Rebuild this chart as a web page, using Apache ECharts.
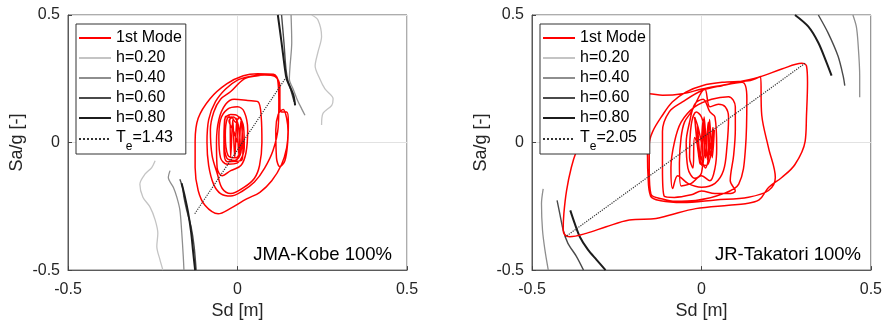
<!DOCTYPE html>
<html>
<head>
<meta charset="utf-8">
<script src="https://cdn.jsdelivr.net/npm/echarts@6/dist/echarts.min.js"></script>
<style>
  html, body { margin: 0; padding: 0; background: #fff; }
  #chart { width: 885px; height: 325px; }
</style>
</head>
<body>
<div id="chart"></div>
<script>
  // axis ticks (same for both panels)
  const axisMin = -0.5
  const axisMax = 0.5
  const tickStep = 0.5
  const panelTitles = ['JMA-Kobe 100%', 'JR-Takatori 100%']
  const dampingNames = ['h=0.20', 'h=0.40', 'h=0.60', 'h=0.80']
  const periodNames = ['Te=1.43', 'Te=2.05']

  // ---- JMA-Kobe: 1st mode response (Sd [m], Sa/g) ----
  const kobeMode = [
    [0.00, 0.00], [-0.01, 0.04], [-0.025, 0.085], [-0.012, 0.10], [0.002, 0.07], [0.008, -0.02],
    [-0.004, -0.06], [-0.028, -0.05], [-0.036, 0.03], [-0.03, 0.095], [-0.018, 0.10], [-0.006, 0.08],
    [0.006, 0.10], [0.014, 0.07], [0.01, -0.04], [-0.008, -0.07], [-0.032, -0.06], [-0.04, 0.02],
    [-0.036, 0.10], [-0.024, 0.105], [-0.02, -0.055], [-0.014, 0.09], [-0.008, -0.06], [-0.002, 0.095],
    [0.004, -0.05], [0.01, 0.085], [0.016, -0.03], [0.012, -0.07], [-0.03, -0.075], [-0.04, -0.02],
    [-0.038, 0.09], [-0.02, 0.11], [0.0, 0.105], [0.018, 0.06], [0.02, -0.02], [0.0, -0.08],
    [-0.03, -0.085], [-0.05, -0.06], [-0.055, 0.02], [-0.05, 0.09], [-0.03, 0.13], [0.0, 0.14],
    [0.02, 0.12], [0.03, 0.05], [0.025, -0.04], [0.01, -0.09], [-0.02, -0.11], [-0.045, -0.13],
    [-0.06, -0.10], [-0.062, 0.0], [-0.055, 0.09], [-0.035, 0.15], [-0.01, 0.17], [0.03, 0.165],
    [0.06, 0.16], [0.07, 0.10], [0.072, 0.0], [0.065, -0.09], [0.05, -0.14], [0.02, -0.175],
    [-0.02, -0.20], [-0.045, -0.18], [-0.06, -0.12], [-0.075, -0.05], [-0.08, 0.05], [-0.07, 0.12],
    [-0.05, 0.17], [-0.02, 0.20], [0.02, 0.25], [0.06, 0.262], [0.10, 0.268], [0.118, 0.25],
    [0.122, 0.16], [0.12, 0.06], [0.105, -0.03], [0.08, -0.10], [0.05, -0.155], [0.015, -0.19],
    [-0.02, -0.21], [-0.05, -0.20], [-0.07, -0.165], [-0.085, -0.09], [-0.09, 0.0], [-0.085, 0.09],
    [-0.065, 0.16], [-0.035, 0.21], [0.0, 0.245], [0.04, 0.26], [0.08, 0.265], [0.11, 0.26],
    [0.125, 0.22], [0.125, 0.14], [0.13, 0.12], [0.145, 0.12], [0.15, 0.08], [0.148, 0.0],
    [0.14, -0.07], [0.125, -0.095], [0.115, -0.06], [0.113, 0.05], [0.12, 0.11], [0.135, 0.13],
    [0.145, 0.095], [0.149, 0.043], [0.145, -0.021], [0.13, -0.086], [0.101, -0.15], [0.066, -0.195],
    [0.027, -0.221], [-0.022, -0.259], [-0.057, -0.279], [-0.096, -0.246], [-0.116, -0.188],
    [-0.125, -0.098], [-0.125, 0.005], [-0.116, 0.095], [-0.081, 0.172], [-0.032, 0.23],
    [0.017, 0.262], [0.06, 0.27], [0.106, 0.268], [0.12, 0.242], [0.123, 0.133]
  ]
  // demand spectra, each as an upper branch and a lower branch
  const kobeH20 = [
    [0.219, 0.50], [0.237, 0.481], [0.248, 0.416], [0.237, 0.353], [0.229, 0.30], [0.243, 0.249],
    [0.258, 0.21], [0.282, 0.172], [0.278, 0.146], [0.252, 0.114], [0.248, 0.069]
  ]
  const kobeH20Low = [
    [-0.243, -0.071], [-0.253, -0.098], [-0.273, -0.124], [-0.288, -0.163], [-0.279, -0.214],
    [-0.258, -0.253], [-0.243, -0.303], [-0.235, -0.356], [-0.238, -0.407], [-0.229, -0.458], [-0.22, -0.50]
  ]
  const kobeH40 = [
    [0.158, 0.50], [0.16, 0.392], [0.155, 0.30], [0.153, 0.249], [0.164, 0.21], [0.175, 0.172],
    [0.189, 0.133], [0.199, 0.107]
  ]
  const kobeH40Low = [
    [-0.199, -0.11], [-0.204, -0.137], [-0.189, -0.176], [-0.179, -0.214], [-0.17, -0.264],
    [-0.165, -0.342], [-0.16, -0.446], [-0.158, -0.50]
  ]
  const kobeH60 = [
    [0.13, 0.50], [0.137, 0.392], [0.143, 0.288], [0.149, 0.241], [0.158, 0.203], [0.167, 0.16]
  ]
  const kobeH60Low = [
    [-0.17, -0.144], [-0.162, -0.176], [-0.158, -0.214], [-0.15, -0.264], [-0.137, -0.33],
    [-0.128, -0.407], [-0.122, -0.50]
  ]
  const kobeH80 = [
    [0.119, 0.50], [0.13, 0.392], [0.14, 0.288], [0.145, 0.249], [0.155, 0.218], [0.165, 0.185], [0.17, 0.146]
  ]
  const kobeH80Low = [
    [-0.165, -0.16], [-0.155, -0.214], [-0.146, -0.272], [-0.137, -0.349], [-0.131, -0.427], [-0.125, -0.50]
  ]
  const kobeTe = [[-0.126, -0.279], [0.14, 0.249]]

  // ---- JR-Takatori ----
  const takatoriMode = [
    [0.0, 0.0], [-0.01, 0.06], [-0.02, 0.10], [-0.005, -0.07], [0.005, 0.09], [0.012, -0.06],
    [0.02, 0.08], [0.026, -0.05], [0.034, 0.06], [0.03, -0.03], [0.015, -0.09], [-0.005, -0.08],
    [-0.012, 0.07], [0.0, -0.09], [0.008, 0.10], [0.018, -0.07], [0.024, 0.09], [0.032, -0.06],
    [0.038, 0.05], [0.028, 0.0], [0.012, -0.10],
    [-0.02, 0.02], [-0.025, -0.10], [-0.035, -0.06], [-0.03, 0.07], [-0.015, 0.12], [0.0, 0.10],
    [0.01, 0.04], [0.0, -0.12], [-0.02, -0.14], [-0.04, -0.10], [-0.045, 0.0], [-0.035, 0.08],
    [-0.02, 0.15], [0.005, 0.17], [0.025, 0.12], [0.04, 0.10], [0.045, -0.02], [0.04, -0.10],
    [0.025, -0.15], [0.0, -0.13], [-0.03, -0.16], [-0.06, -0.17], [-0.065, -0.08], [-0.06, 0.02],
    [-0.05, 0.08], [-0.03, 0.12], [0.01, 0.21], [0.025, 0.14], [0.05, 0.15], [0.07, 0.14],
    [0.08, 0.10], [0.075, -0.02], [0.065, -0.11], [0.04, -0.16], [0.0, -0.175], [-0.04, -0.16],
    [-0.07, -0.13], [-0.085, -0.18], [-0.09, -0.10], [-0.08, 0.0], [-0.06, 0.08], [-0.02, 0.14],
    [0.03, 0.17], [0.08, 0.18], [0.10, 0.14], [0.10, 0.05], [0.095, -0.05], [0.085, -0.15],
    [0.10, -0.19], [0.08, -0.20], [0.04, -0.20], [0.0, -0.19], [-0.03, -0.205], [-0.08, -0.215],
    [-0.11, -0.21], [-0.115, -0.10], [-0.115, 0.043], [-0.095, 0.12], [-0.056, 0.159], [0.002, 0.204],
    [0.061, 0.223], [0.12, 0.236], [0.134, 0.172], [0.13, -0.021], [0.11, -0.163], [0.061, -0.202],
    [-0.017, -0.227], [-0.076, -0.23], [-0.115, -0.221], [-0.149, -0.202], [-0.154, -0.111],
    [-0.154, -0.008], [-0.144, 0.043], [-0.115, 0.107], [-0.086, 0.159], [-0.046, 0.198], [0.002, 0.223],
    [0.061, 0.236], [0.139, 0.242], [0.174, 0.259], [0.178, 0.107], [0.198, -0.021], [0.218, -0.137],
    [0.198, -0.188], [0.139, -0.214], [0.042, -0.225], [-0.056, -0.235], [-0.12, -0.228], [-0.15, -0.21],
    [-0.158, -0.12], [-0.16, -0.03], [-0.17, 0.0], [-0.24, 0.15], [-0.2, 0.185], [-0.154, 0.191],
    [-0.115, 0.185], [-0.056, 0.191], [0.002, 0.21], [0.081, 0.23], [0.169, 0.256], [0.237, 0.288],
    [0.296, 0.311], [0.31, 0.30], [0.313, 0.236], [0.31, 0.107], [0.306, 0.005], [0.276, -0.086],
    [0.237, -0.137], [0.198, -0.176], [0.17, -0.225], [0.13, -0.24], [0.081, -0.246], [-0.017, -0.259],
    [-0.095, -0.285], [-0.134, -0.298], [-0.213, -0.304], [-0.281, -0.33], [-0.34, -0.356],
    [-0.389, -0.369], [-0.403, -0.362], [-0.408, -0.343], [-0.406, -0.279], [-0.398, -0.188],
    [-0.384, -0.098], [-0.369, -0.034], [-0.34, 0.05]
  ]
  const takatoriH20 = []
  const takatoriH20Low = []
  const takatoriH40 = [
    [0.447, 0.50], [0.457, 0.455], [0.462, 0.391], [0.467, 0.262], [0.467, 0.178]
  ]
  const takatoriH40Low = [
    [-0.467, -0.182], [-0.472, -0.24], [-0.469, -0.343], [-0.462, -0.42], [-0.452, -0.50]
  ]
  const takatoriH60 = [
    [0.345, 0.50], [0.374, 0.429], [0.403, 0.339], [0.418, 0.262], [0.423, 0.223]
  ]
  const takatoriH60Low = [
    [-0.426, -0.227], [-0.418, -0.279], [-0.408, -0.343], [-0.394, -0.395], [-0.369, -0.446], [-0.348, -0.50]
  ]
  const takatoriH80 = [
    [0.276, 0.50], [0.315, 0.455], [0.345, 0.391], [0.369, 0.314], [0.384, 0.262]
  ]
  const takatoriH80Low = [
    [-0.387, -0.266], [-0.374, -0.317], [-0.359, -0.369], [-0.335, -0.42], [-0.31, -0.459], [-0.283, -0.50]
  ]
  const takatoriTe = [[-0.403, -0.371], [0.306, 0.311]]

  const FONT = "'Liberation Sans', Arial, sans-serif"
  const hColors = ['#c4c4c4', '#8e8e8e', '#4a4a4a', '#1c1c1c']
  const hWidths = [1.3, 1.3, 1.4, 2]

  function panelSeries(idx, mode, hUp, hLow, te) {
    const out = []
    for (let k = 0; k < 4; k++) {
      const style = { color: hColors[k], width: hWidths[k] }
      out.push({ name: dampingNames[k], type: 'line', xAxisIndex: idx, yAxisIndex: idx,
        data: hUp[k], symbol: 'none', smooth: 0.3, lineStyle: style, itemStyle: { color: hColors[k] }, z: 2 })
      out.push({ name: dampingNames[k], type: 'line', xAxisIndex: idx, yAxisIndex: idx,
        data: hLow[k], symbol: 'none', smooth: 0.3, lineStyle: style, itemStyle: { color: hColors[k] }, z: 2 })
    }
    out.push({ name: '1st Mode', type: 'line', xAxisIndex: idx, yAxisIndex: idx, data: mode,
      symbol: 'none', smooth: 0.35, lineStyle: { color: '#ff0000', width: 1.5 }, itemStyle: { color: '#ff0000' }, z: 3 })
    out.push({ name: periodNames[idx], type: 'line', xAxisIndex: idx, yAxisIndex: idx, data: te,
      symbol: 'none', lineStyle: { color: '#333', width: 1.2, type: 'dotted' }, itemStyle: { color: '#333' }, z: 4 })
    return out
  }

  function makeAxis(idx, isX) {
    return {
      type: 'value', gridIndex: idx, min: axisMin, max: axisMax, interval: tickStep,
      name: isX ? 'Sd [m]' : 'Sa/g [-]', nameLocation: 'middle', nameGap: isX ? 31 : 42,
      nameTextStyle: { fontFamily: FONT, fontSize: 18, color: '#262626' },
      axisLine: { show: true, onZero: false, lineStyle: { color: '#5a5a5a', width: 1 } },
      axisTick: { show: true, inside: true, length: 4, lineStyle: { color: '#444' } },
      axisLabel: { fontFamily: FONT, fontSize: 16, color: '#262626', margin: isX ? 11 : 8,
        showMinLabel: true, showMaxLabel: true },
      splitLine: { show: true, lineStyle: { color: '#e2e2e2', width: 1 } }
    }
  }

  function makeLegend(idx, left) {
    return {
      orient: 'vertical', left: left, top: 24, selectedMode: false,
      data: ['1st Mode'].concat(dampingNames).concat([periodNames[idx]]),
      backgroundColor: '#fff', borderColor: '#333', borderWidth: 1, borderRadius: 0,
      padding: [6, 4, 1, 2], itemWidth: 32, itemHeight: 14, itemGap: 4,
      itemStyle: { opacity: 0, borderWidth: 0 },
      textStyle: { fontFamily: FONT, fontSize: 16, color: '#000',
        rich: {
          t: { fontFamily: FONT, fontSize: 16, color: '#000', lineHeight: 18, verticalAlign: 'top' },
          s: { fontFamily: FONT, fontSize: 12, color: '#000', lineHeight: 12, padding: [11, 0, 0, 0], verticalAlign: 'top' }
        } },
      formatter: function (name) {
        if (name.indexOf('Te=') === 0) return '{t|T}{s|e}{t|' + name.slice(2) + '}'
        return name
      }
    }
  }

  const chart = echarts.init(document.getElementById('chart'), null, { renderer: 'canvas' })
  const option = {
    animation: false,
    backgroundColor: '#fff',
    grid: [
      { left: 68, top: 15, width: 339, height: 259, show: true, borderColor: '#5a5a5a', borderWidth: 1, backgroundColor: '#fff' },
      { left: 532, top: 15, width: 341, height: 259, show: true, borderColor: '#5a5a5a', borderWidth: 1, backgroundColor: '#fff' }
    ],
    xAxis: [makeAxis(0, true), makeAxis(1, true)],
    yAxis: [makeAxis(0, false), makeAxis(1, false)],
    legend: [makeLegend(0, 76), makeLegend(1, 540)],
    graphic: [
      { type: 'text', right: 493, top: 245, style: { text: panelTitles[0], font: '18.5px ' + FONT, fill: '#000' } },
      { type: 'text', right: 24, top: 245, style: { text: panelTitles[1], font: '18.5px ' + FONT, fill: '#000' } }
    ],
    series: panelSeries(0, kobeMode,
      [kobeH20, kobeH40, kobeH60, kobeH80], [kobeH20Low, kobeH40Low, kobeH60Low, kobeH80Low], kobeTe)
      .concat(panelSeries(1, takatoriMode,
        [takatoriH20, takatoriH40, takatoriH60, takatoriH80],
        [takatoriH20Low, takatoriH40Low, takatoriH60Low, takatoriH80Low], takatoriTe))
  }
  chart.setOption(option)
</script>
</body>
</html>
